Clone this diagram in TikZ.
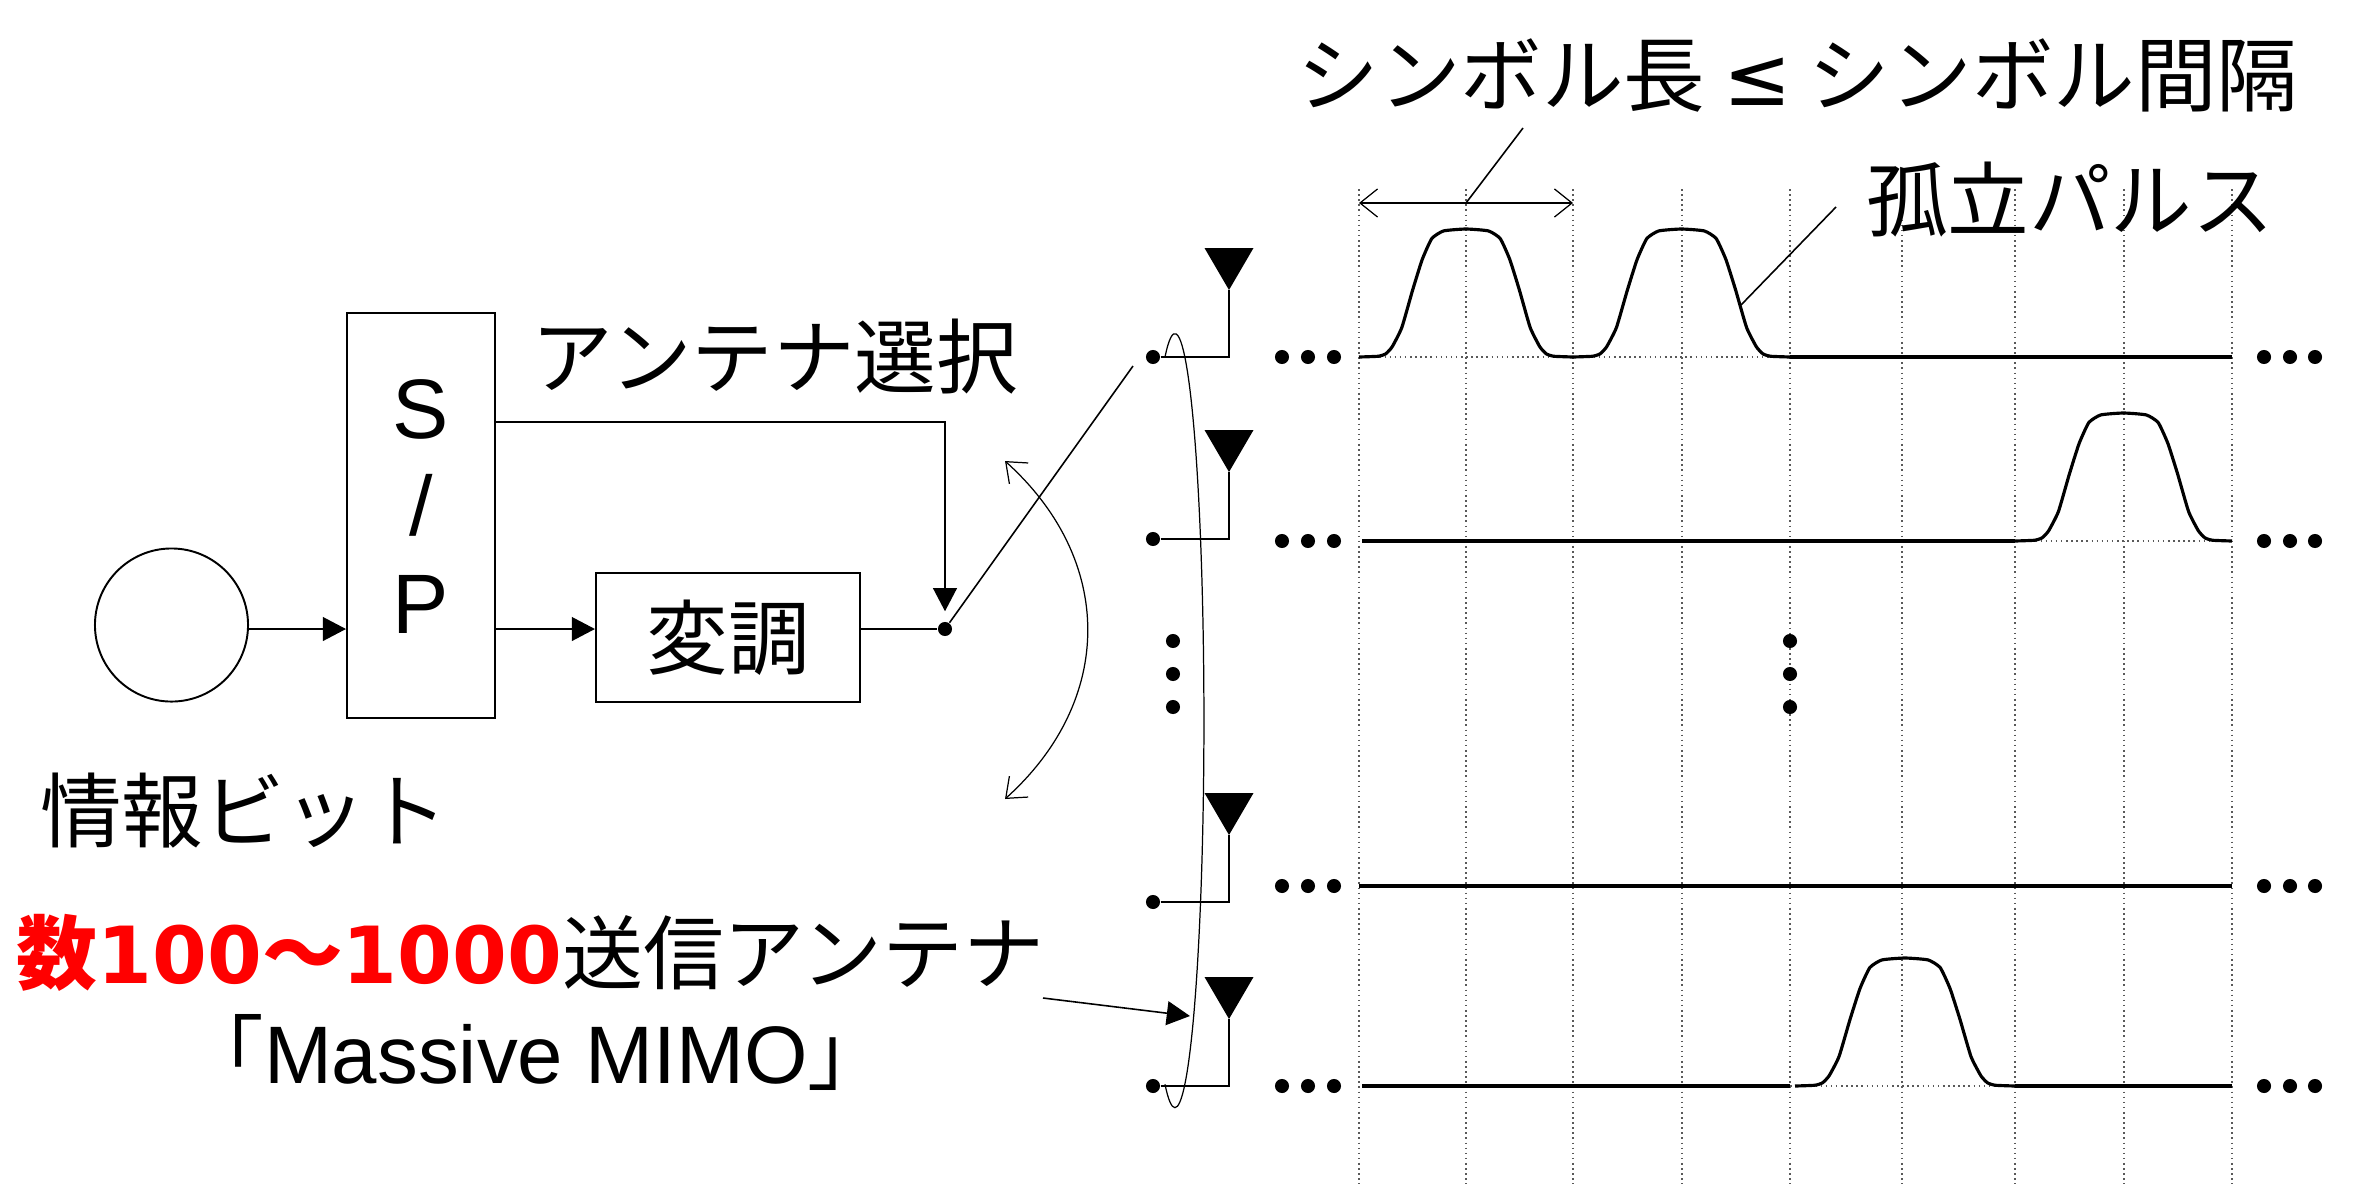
\documentclass[tikz,border=0pt]{standalone}
\usepackage{fontspec}
\usetikzlibrary{arrows.meta}
\setmainfont{Noto Sans CJK JP}
\newfontfamily\latinfont{Liberation Sans}
\newfontfamily\numfont{DejaVu Sans}

\tikzset{
  label text/.style={inner sep=0pt, font=\fontsize{23.2}{27}\selectfont},
  blockbox/.style={draw, line width=0.55pt, inner sep=0pt},
  dot/.style={circle, fill=black, inner sep=0pt, minimum size=4pt},
  thinline/.style={line width=0.45pt},
  solidtip/.style={thinline, -{Triangle[length=6.6pt, width=6.8pt]}},
  barbtip/.style={line width=0.35pt, {Straight Barb[length=5pt, width=8pt]}-{Straight Barb[length=5pt, width=8pt]}},
  gridline/.style={line width=0.45pt, densely dotted, black!65},
  wave/.style={line width=0.9pt, line join=round},
}

% one pulse: left end, baseline, width
\newcommand{\pulse}[3]{
  \draw[wave, shift={(#1,#2)}, xscale=#3, yscale=128] plot[smooth, tension=0.3] coordinates {
    (0,0) (.09,-.006) (.125,-.025) (.155,-.08) (.2,-.23) (.25,-.52) (.295,-.76) (.34,-.925) (.395,-.985) (.5,-1)
    (.605,-.985) (.66,-.925) (.705,-.76) (.75,-.52) (.8,-.23) (.845,-.08) (.875,-.025) (.91,-.006) (1,0)};
}

\begin{document}
\begin{tikzpicture}[x=0.01cm, y=-0.01cm]
  \useasboundingbox (0,0) rectangle (2360,1184);

  % --- Grid of symbol slots ---
  \foreach \gx in {1359,1466,1573,1682,1790,1902,2015,2124,2232}
    \draw[gridline] (\gx,189) -- (\gx,1184);
  \draw[gridline] (1359,357) -- (1790,357);
  \draw[gridline] (2015,541) -- (2232,541);
  \draw[gridline] (1790,1086) -- (2015,1086);

  % --- Transmitter chain ---
  \node[circle, draw, line width=0.55pt, minimum size=1.53cm, inner sep=0pt] (source) at (171.5,625) {};
  \node[blockbox, minimum width=1.48cm, minimum height=4.05cm] (sp) at (421,515.5) {};
  \node[inner sep=0pt, align=center, font=\fontsize{24}{27.6}\selectfont\latinfont] (sptext) at (421,506.5) {S\\/\\P};
  \node[blockbox, minimum width=2.64cm, minimum height=1.29cm, font=\fontsize{23.2}{27}\selectfont] (mod) at (728,637.5) {変調};
  \node[dot] (sw) at (945,629) {};
  \coordinate (seltap) at (495,422);
  \coordinate (armend) at (1133,366);

  \draw[solidtip] (sw -| source.east) -- (sw -| sp.west);
  \draw[solidtip] (sw -| sp.east) -- (sw -| mod.west);
  \draw[thinline] (sw -| mod.east) -- (sw);
  \draw[solidtip] (seltap) -| ([yshift=0.1cm]sw.north);
  \draw[thinline] (sw) -- (armend);

  % --- Antennas ---
  \foreach \i/\ry in {1/357,2/539,3/902,4/1086} {
    \node[dot] (ant\i) at (1153,\ry) {};
    \coordinate (tip\i) at (1229,\ry-67);
    \fill (tip\i) -- ++(-24.5,-42) -- ++(49,0) -- cycle;
    \draw[thinline] (ant\i) -- (ant\i -| tip\i) -- (tip\i);
  }

  % --- Waveforms and dots on each row ---
  \foreach \i/\ry/\xa/\xb in {1/357/1790/2232, 2/541/1362/2015, 3/886/1359/2232, 4/1086/1362/1790} {
    \draw[wave] (\xa,\ry) -- (\xb,\ry);
    \foreach \dx in {1282,1308,1334,2264,2290,2315}
      \node[dot] (row\i-\dx) at (\dx,\ry) {};
  }
  \draw[wave] (2015,1086) -- (2232,1086);
  \pulse{1359}{357}{214}
  \pulse{1573}{357}{217}
  \pulse{2015}{541}{217}
  \pulse{1795}{1086}{220}

  % --- Vertical dots ---
  \foreach \vy in {641,674,707} {
    \node[dot] (vl\vy) at (1173,\vy) {};
    \node[dot] (vr\vy) at (1790,\vy) {};
  }

  % --- Selection sweep and antenna group ---
  \coordinate (sweepa) at (1005,461);
  \coordinate (sweepb) at (1005,799);
  \draw[barbtip] (sweepa) .. controls (1115,560) and (1115,700) .. (sweepb);
  \draw[line width=0.35pt] (1165,357) arc[start angle=-110, end angle=110, x radius=29, y radius=387];

  % --- Symbol length ---
  \coordinate (dima) at (1359,203);
  \coordinate (dimb) at (1573,203);
  \coordinate (dimc) at (1466,203);
  \coordinate (dimlabel) at (1523,128);
  \draw[barbtip] (dima) -- (dimb);
  \draw[thinline] (dimc) -- (dimlabel);

  % --- Pulse leader ---
  \coordinate (pulsept) at (1741,305);
  \coordinate (pulselabel) at (1836,207);
  \draw[thinline] (pulsept) -- (pulselabel);

  % --- Labels ---
  \node[label text] (symlabel) at (1798,75) {シンボル長\hspace{5pt}{\numfont≤}\hspace{5pt}シンボル間隔};
  \node[label text] (isolabel) at (2070,200) {孤立パルス};
  \node[label text] (sellabel) at (775,357) {アンテナ選択};
  \node[label text] (infolabel) at (244,811) {情報ビット};
  \node[label text, font=\fontsize{23}{27}\selectfont] (numlabel) at (530.5,953) {{\color{red}\bfseries 数{\numfont\fontsize{22.4}{27}\selectfont 100}～{\numfont\fontsize{22.4}{27}\selectfont 1000}}送信アンテナ};
  \node[label text] (mimolabel) at (536,1052) {「{\latinfont Massive MIMO}」};

  \coordinate (mimofrom) at (1043,998);
  \coordinate (mimoto) at (1190,1016);
  \draw[solidtip] (mimofrom) -- (mimoto);

\end{tikzpicture}
\end{document}
